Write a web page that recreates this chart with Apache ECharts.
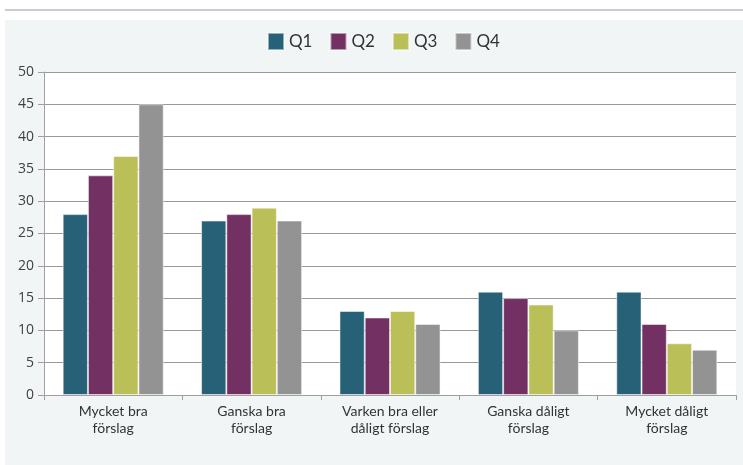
<!DOCTYPE html>
<html><head><meta charset="utf-8">
<script src="https://cdn.jsdelivr.net/npm/echarts@6/dist/echarts.min.js"></script>
<style>html,body{margin:0;padding:0;background:#fff}#c{width:743px;height:465px}</style>
</head><body><div id="c"></div>
<script>
const categories = ["Mycket bra\nförslag", "Ganska bra\nförslag", "Varken bra eller\ndåligt förslag", "Ganska dåligt\nförslag", "Mycket dåligt\nförslag"];
const seriesNames = ["Q1", "Q2", "Q3", "Q4"];
const q1 = [28, 27, 13, 16, 16];
const q2 = [34, 28, 12, 15, 11];
const q3 = [37, 29, 13, 14, 8];
const q4 = [45, 27, 11, 10, 7];
const yTicks = {min: 0, max: 50, interval: 5};
const colors = ["#276178", "#733063", "#bbbf57", "#939393"];
const values = [q1, q2, q3, q4];

const chart = echarts.init(document.getElementById('c'), null, {renderer: 'canvas'});
chart.setOption({
  animation: false,
  backgroundColor: '#ffffff',
  graphic: [
    {type: 'rect', left: 5, top: 9, shape: {width: 738, height: 2}, style: {fill: '#c9cdd3'}, z: -10},
    {type: 'rect', left: 5, top: 20, shape: {width: 738, height: 445}, style: {fill: '#f2f5f6'}, z: -10}
  ],
  legend: {
    top: 27, left: 262, padding: 5,
    icon: 'rect', itemWidth: 16, itemHeight: 17, itemGap: 17,
    textStyle: {fontFamily: 'Lato', fontSize: 17, color: '#333'},
    data: seriesNames
  },
  grid: {left: 44, right: 7, top: 72, bottom: 70, show: true, backgroundColor: '#ffffff', borderWidth: 0},
  xAxis: {
    type: 'category', data: categories,
    axisLine: {lineStyle: {color: '#a0a0a0', width: 1}},
    axisTick: {show: true, length: 5, lineStyle: {color: '#a0a0a0'}},
    axisLabel: {fontFamily: 'Lato', fontSize: 14, color: '#333', lineHeight: 17, margin: 8, interval: 0}
  },
  yAxis: {
    type: 'value', min: yTicks.min, max: yTicks.max, interval: yTicks.interval,
    axisLine: {show: true, lineStyle: {color: '#a0a0a0', width: 1}},
    axisTick: {show: true, length: 6, lineStyle: {color: '#a0a0a0'}},
    axisLabel: {fontFamily: 'Open Sans', fontSize: 14, color: '#404040', margin: 10},
    splitLine: {lineStyle: {color: '#999999', width: 1}}
  },
  series: seriesNames.map((n, i) => ({
    name: n, type: 'bar', data: values[i],
    barGap: '0%', barCategoryGap: '27%',
    itemStyle: {color: colors[i], borderColor: 'rgba(255,255,255,0.5)', borderWidth: 1}
  }))
});
</script></body></html>
